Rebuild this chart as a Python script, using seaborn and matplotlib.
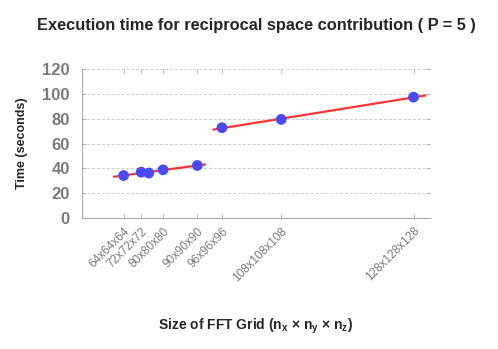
import matplotlib
matplotlib.use("Agg")
import matplotlib.pyplot as plt
import seaborn as sns
import numpy as np
import pandas as pd

# grid edge lengths (cubic grids) and measured times
grid_n = [64, 72, 75, 80, 90, 96, 108, 128]
time_sec = [34.3, 37.0, 36.3, 38.9, 42.4, 72.8, 79.5, 97.4]
tick_n = [64, 72, 80, 90, 96, 108, 128]
tick_labels = [f"{n}x{n}x{n}" for n in tick_n]

# the two regimes get separate linear fits
split_n = 93
fit_ranges = [(58.5, 92), (94, 129.5)]

sns.set_style("white")
plt.rcParams['font.family'] = ['Liberation Sans', 'DejaVu Sans']
plt.rcParams['mathtext.fontset'] = 'custom'
plt.rcParams['mathtext.rm'] = 'Liberation Sans:bold'
plt.rcParams['mathtext.bf'] = 'Liberation Sans:bold'
plt.rcParams['mathtext.it'] = 'Liberation Sans:bold'

df = pd.DataFrame({'n': grid_n, 'time': time_sec})
df['points'] = df['n'] ** 3

fig = plt.figure(figsize=(4.98, 3.49), dpi=100)
ax = fig.add_axes([0.165, 0.375, 0.698, 0.427])

gray = '#7a7a7a'

# fit lines
for (lo, hi), part in zip(fit_ranges, [df[df['n'] < split_n], df[df['n'] > split_n]]):
    coef = np.polyfit(part['points'], part['time'], 1)
    xs = np.array([lo ** 3, hi ** 3])
    sns.lineplot(x=xs, y=np.polyval(coef, xs), color='#ff3333', lw=1.6, ax=ax, zorder=2)

sns.scatterplot(data=df, x='points', y='time', color='#4a4af5', s=60,
                edgecolor='none', ax=ax, zorder=3)

ax.set_xlim(0, 2.2e6)
ax.set_ylim(0, 120)
ax.set_yticks(range(0, 121, 20))
ax.set_xticks([n ** 3 for n in tick_n])
ax.set_xticklabels(tick_labels, rotation=45, ha='right', rotation_mode='anchor',
                   fontsize=8.5, color=gray)
ax.tick_params(axis='both', which='both', direction='in', length=3, width=0.6,
               color='#aaaaaa', top=True, right=True, bottom=True, left=True)
ax.tick_params(axis='y', labelsize=12, labelcolor=gray, pad=9)
ax.tick_params(axis='x', pad=5)
for lbl in ax.get_yticklabels():
    lbl.set_fontweight('bold')

ax.grid(axis='y', linestyle=(0, (3, 2)), color='#cccccc', lw=0.7)
ax.set_axisbelow(True)
for side in ['top', 'right']:
    ax.spines[side].set_visible(False)
for side in ['left', 'bottom']:
    ax.spines[side].set_color('#aaaaaa')
    ax.spines[side].set_linewidth(0.8)

ax.set_title('Execution time for reciprocal space contribution ( P = 5 )',
             fontsize=11.8, fontweight='bold', pad=28)
ax.set_ylabel('Time (seconds)', fontsize=9, fontweight='bold', labelpad=10)
ax.set_xlabel(r'Size of FFT Grid (n$_{\mathbf{x}}$ $\times$ n$_{\mathbf{y}}$ $\times$ n$_{\mathbf{z}}$)',
              fontsize=10, fontweight='bold', labelpad=24)

fig.savefig('out.png', dpi=100)
